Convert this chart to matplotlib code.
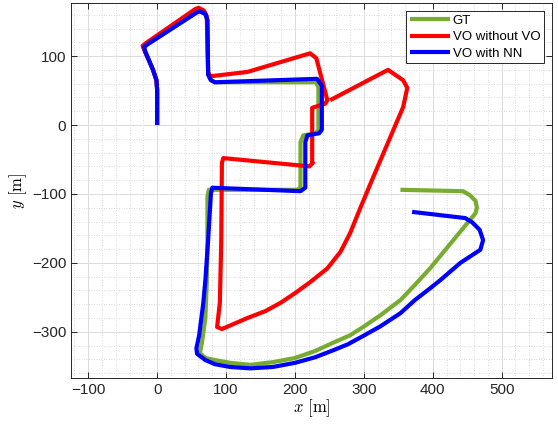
import matplotlib
matplotlib.use("Agg")
import matplotlib.pyplot as plt
from matplotlib.ticker import MultipleLocator

plt.rcParams["font.family"] = ["Liberation Sans", "DejaVu Sans"]
plt.rcParams["mathtext.fontset"] = "cm"

# trajectories, metres
gt_x = [0, 0, -1, -6, -12, -17, -19, -14, 57, 62, 70, 73, 74, 78, 84, 231,
        234, 234, 230, 212, 208, 208, 203, 75, 73, 73, 72, 70, 65, 62, 70,
        84, 106, 135, 168, 200, 229, 255, 280, 299, 324, 353, 374, 396, 462,
        464, 462, 454, 444, 353]
gt_y = [0, 51, 65, 80, 94, 106, 113, 117, 163, 165, 161, 152, 73, 65, 62,
        62, 54, -7, -12, -15, -25, -91, -94, -94, -104, -170, -230, -280,
        -316, -331, -338, -341, -345, -348, -344, -338, -328, -316, -305,
        -293, -276, -254, -232, -208, -128, -120, -110, -102, -96, -94]

vo_x = [0, 0, -1, -6, -12, -18, -21, -16, 55, 60, 68, 72, 74, 76, 80, 131,
        222, 231, 247, 244, 225, 225, 226, 221, 96, 94, 93, 91, 87, 94, 131,
        157, 179, 200, 222, 247, 266, 280, 295, 313, 357, 363, 357, 335, 251]
vo_y = [0, 51, 65, 80, 94, 107, 115, 119, 168, 170, 166, 158, 77, 72, 71,
        77, 104, 97, 36, 31, 25, -55, -55, -60, -48, -55, -170, -258, -293,
        -296, -280, -270, -258, -244, -228, -208, -184, -157, -120, -77, 26,
        54, 65, 80, 36]

nn_x = [0, 0, -1, -6, -12, -17, -19, -14, 57, 62, 70, 73, 74, 78, 84, 232,
        239, 239, 235, 218, 215, 215, 208, 80, 78, 74, 70, 67, 61, 57, 58,
        70, 84, 106, 135, 168, 200, 229, 255, 277, 299, 324, 353, 374, 396,
        411, 440, 469, 473, 468, 457, 447, 370]
nn_y = [0, 51, 65, 80, 94, 106, 113, 117, 163, 165, 161, 152, 73, 65, 62,
        67, 57, -7, -12, -15, -25, -91, -96, -91, -100, -167, -225, -258,
        -305, -324, -332, -341, -347, -351, -353, -351, -345, -337, -327,
        -318, -306, -292, -273, -254, -237, -225, -200, -181, -167, -152,
        -141, -135, -126]

labels = ["GT", "VO without VO", "VO with NN"]
colors = ["#77AC30", "#FF0000", "#0000FF"]

fig = plt.figure(figsize=(5.58, 4.30), dpi=100)
ax = fig.add_axes([71 / 558, 52 / 430, 481 / 558, 375 / 430])

for xs, ys, lab, col in zip([gt_x, vo_x, nn_x], [gt_y, vo_y, nn_y], labels, colors):
    ax.plot(xs, ys, color=col, lw=3, label=lab,
            solid_joinstyle="round", solid_capstyle="butt")

ax.set_xlim(-125, 573)
ax.set_ylim(-367, 177)
ax.set_aspect("equal", adjustable="datalim")

ax.xaxis.set_major_locator(MultipleLocator(100))
ax.yaxis.set_major_locator(MultipleLocator(100))
ax.xaxis.set_minor_locator(MultipleLocator(20))
ax.yaxis.set_minor_locator(MultipleLocator(20))
ax.grid(True, which="major", color="#dcdcdc", lw=0.7)
ax.grid(True, which="minor", color="#d0d0d0", lw=0.6, ls=(0, (1, 2)))
ax.set_axisbelow(True)

ax.tick_params(which="major", direction="in", length=4, top=True, right=True,
               labelsize=11, colors="#262626", width=0.7)
ax.tick_params(which="minor", length=0)
for s in ax.spines.values():
    s.set_color("#262626")
    s.set_linewidth(0.7)

ax.set_xlabel(r"$x\ [\mathrm{m}]$", fontsize=12, labelpad=0)
ax.set_ylabel(r"$y\ [\mathrm{m}]$", fontsize=12, labelpad=2)

leg = ax.legend(loc="upper right", fontsize=9.5, handlelength=3,
                handletextpad=0.2, labelspacing=0.3, borderpad=0.3,
                borderaxespad=0.6, fancybox=False, framealpha=1)
leg.get_frame().set_edgecolor("#262626")
leg.get_frame().set_linewidth(0.7)

fig.savefig("out.png", dpi=100)
